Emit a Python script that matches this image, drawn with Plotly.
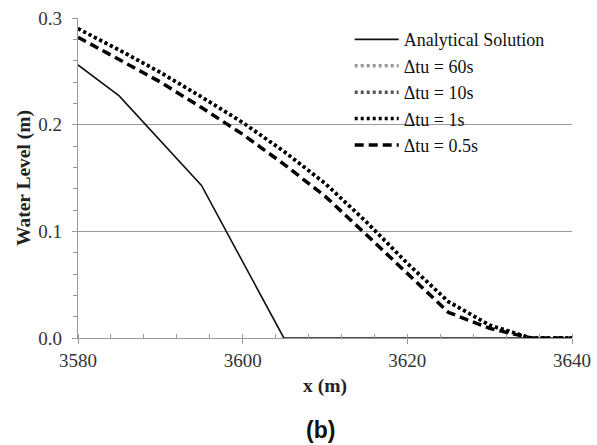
import plotly.graph_objects as go

x_analytical = [3580, 3585, 3595, 3605, 3640]
h_analytical = [0.256, 0.227, 0.143, 0.0, 0.0]

x_num = [3580, 3585, 3590, 3595, 3600, 3605, 3610, 3615, 3620, 3625, 3630, 3635, 3640]
h_dt60 = [0.290, 0.270, 0.249, 0.226, 0.202, 0.175, 0.145, 0.109, 0.070, 0.034, 0.012, 0.0, 0.0]
h_dt10 = [0.290, 0.270, 0.249, 0.226, 0.202, 0.175, 0.145, 0.109, 0.070, 0.034, 0.012, 0.0, 0.0]
h_dt1 = [0.290, 0.270, 0.249, 0.226, 0.202, 0.175, 0.145, 0.109, 0.070, 0.034, 0.012, 0.0, 0.0]
h_dt05 = [0.282, 0.261, 0.240, 0.216, 0.191, 0.163, 0.133, 0.097, 0.060, 0.024, 0.009, 0.0, 0.0]

x_ticks = [3580, 3600, 3620, 3640]
y_ticks = [0.0, 0.1, 0.2, 0.3]

serif = "Liberation Serif, Times New Roman, serif"

fig = go.Figure()
fig.add_trace(go.Scatter(x=x_analytical, y=h_analytical, mode="lines",
                         name="Analytical Solution",
                         line=dict(color="#111111", width=1.6)))
fig.add_trace(go.Scatter(x=x_num, y=h_dt60, mode="lines", name="\u0394tu = 60s",
                         line=dict(color="#9a9a9a", width=3.5, dash="3px,3px")))
fig.add_trace(go.Scatter(x=x_num, y=h_dt10, mode="lines", name="\u0394tu = 10s",
                         line=dict(color="#555555", width=3.5, dash="3px,3px")))
fig.add_trace(go.Scatter(x=x_num, y=h_dt1, mode="lines", name="\u0394tu = 1s",
                         line=dict(color="#000000", width=3.5, dash="3px,3px")))
fig.add_trace(go.Scatter(x=x_num, y=h_dt05, mode="lines", name="\u0394tu = 0.5s",
                         line=dict(color="#000000", width=3.5, dash="9px,5px")))

fig.update_layout(
    width=597, height=445,
    margin=dict(l=78, r=25, t=18, b=107, autoexpand=False),
    paper_bgcolor="white", plot_bgcolor="white",
    font=dict(family=serif, size=18, color="#222222"),
    showlegend=True,
    legend=dict(x=0.55, y=0.99, xanchor="left", yanchor="top",
                bgcolor="rgba(0,0,0,0)", borderwidth=0,
                font=dict(family=serif, size=18, color="#111111"),
                tracegroupgap=0, itemwidth=44),
    xaxis=dict(range=[3580, 3640], tickvals=x_ticks, ticktext=[str(v) for v in x_ticks],
               showgrid=False, zeroline=False, showline=True, linecolor="#999999",
               linewidth=1.2, ticks="outside", ticklen=5, tickcolor="#999999",
               ticklabelstandoff=0,
               minor=dict(dtick=4, tick0=3580, ticks="inside", ticklen=4, tickcolor="#999999"),
               tickfont=dict(family=serif, size=19, color="#333333"),
               title=dict(text="<b>x (m)</b>", font=dict(family=serif, size=19.5, color="#222222"),
                          standoff=8)),
    yaxis=dict(range=[0, 0.3], tickvals=y_ticks, ticktext=["0.0", "0.1", "0.2", "0.3"],
               showgrid=True, gridcolor="#9a9a9a", gridwidth=1.2,
               zeroline=False, showline=True, linecolor="#999999", linewidth=1.2,
               ticks="outside", ticklen=5, tickcolor="#999999",
               ticklabelstandoff=6,
               minor=dict(dtick=0.02, tick0=0, ticks="outside", ticklen=4, tickcolor="#999999"),
               tickfont=dict(family=serif, size=19, color="#333333"),
               title=dict(text="<b>Water Level (m)</b>", font=dict(family=serif, size=19.5, color="#222222"),
                          standoff=2)),
)

fig.add_annotation(text="<b>(b)</b>", xref="paper", yref="paper", x=0.49, y=-0.287,
                   xanchor="center", yanchor="middle", showarrow=False,
                   font=dict(family="Liberation Sans, Arial, sans-serif", size=23, color="#111111"))

fig.write_html("out.html", config={"displayModeBar": False},
               post_script="document.body.style.margin='0';")
